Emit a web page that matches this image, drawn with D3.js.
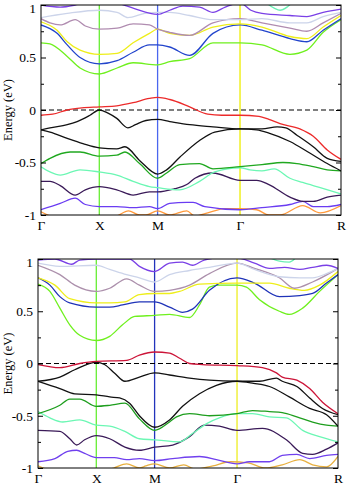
<!DOCTYPE html>
<html><head><meta charset="utf-8">
<script src="https://cdn.jsdelivr.net/npm/d3@7"></script>
<style>html,body{margin:0;padding:0;background:#fff;}svg{display:block;}
svg text{font-family:"Liberation Serif","DejaVu Serif","Times New Roman",serif;}</style>
</head><body>
<svg id="chart" width="349" height="486"></svg>
<script>
// ---- k-path (high symmetry points) ----
const kPoints = [0, 1, 2, 3.414, 5.146];
const kLabels = ["Γ", "X", "M", "Γ", "R"];
const yMajor = [-1, -0.5, 0, 0.5, 1];
const yMajorLabels = ["-1", "-0.5", "0", "0.5", "1"];
const yMinor = [-0.75, -0.25, 0.25, 0.75];

// ---- top panel bands: [k, E(eV)] ----
const topRed = [[0,-0.05],[0.2,-0.04],[0.45,0.0],[0.7,0.02],[1,0.03],[1.3,0.04],[1.58,0.07],[1.86,0.11],[2,0.12],[2.21,0.10],[2.55,0.03],[2.86,-0.04],[3.1,-0.05],[3.414,-0.05],[3.74,-0.06],[3.91,-0.09],[4.1,-0.13],[4.44,-0.18],[4.67,-0.25],[4.91,-0.38],[5.146,-0.47]];
const topBlackA = [[0,-0.19],[0.155,-0.17],[0.45,-0.14],[0.62,-0.11],[0.84,-0.05],[1,0],[1.15,-0.03],[1.3,-0.08],[1.49,-0.17],[1.62,-0.14],[1.8,-0.1],[2,-0.09],[2.21,-0.11],[2.55,-0.14],[2.95,-0.16],[3.414,-0.18],[3.79,-0.18],[4.05,-0.16],[4.2,-0.17],[4.39,-0.24],[4.67,-0.35],[4.91,-0.46],[5.146,-0.49]];
const topBlackB = [[0,-0.19],[0.155,-0.21],[0.45,-0.27],[0.72,-0.32],[1,-0.36],[1.3,-0.37],[1.44,-0.35],[1.69,-0.48],[2,-0.61],[2.155,-0.57],[2.38,-0.45],[2.72,-0.29],[2.98,-0.21],[3.414,-0.18],[3.7,-0.19],[3.91,-0.22],[4.27,-0.30],[4.61,-0.41],[4.91,-0.51],[5.146,-0.58]];
const topGreen = [[0,-0.51],[0.155,-0.46],[0.5,-0.40],[0.67,-0.40],[1,-0.44],[1.3,-0.43],[1.44,-0.40],[1.69,-0.51],[2,-0.65],[2.155,-0.60],[2.38,-0.52],[2.72,-0.51],[2.95,-0.56],[3.414,-0.54],[3.79,-0.52],[4.15,-0.50],[4.39,-0.51],[4.67,-0.54],[4.91,-0.57],[5.146,-0.58]];
const topAqua = [[0,-0.54],[0.155,-0.59],[0.33,-0.62],[0.67,-0.57],[1,-0.59],[1.3,-0.62],[1.58,-0.68],[1.86,-0.73],[2,-0.74],[2.38,-0.76],[2.72,-0.68],[2.98,-0.59],[3.414,-0.55],[3.585,-0.57],[3.79,-0.58],[4.0,-0.56],[4.27,-0.65],[4.49,-0.69],[4.79,-0.74],[5.146,-0.80]];
const topPurple = [[0,-0.68],[0.155,-0.68],[0.33,-0.72],[0.586,-0.81],[0.76,-0.76],[1,-0.73],[1.3,-0.76],[1.58,-0.81],[1.86,-0.78],[2,-0.78],[2.29,-0.75],[2.5,-0.71],[2.64,-0.65],[2.95,-0.60],[3.414,-0.67],[3.7,-0.67],[3.91,-0.71],[4.27,-0.83],[4.49,-0.87],[4.67,-0.87],[4.91,-0.83],[5.146,-0.81]];
const topViolet = [[0,-0.95],[0.33,-0.89],[0.586,-0.84],[0.76,-0.90],[1,-0.92],[1.3,-0.92],[1.58,-0.93],[1.86,-0.92],[2,-0.94],[2.207,-0.89],[2.5,-0.88],[2.61,-0.88],[2.81,-0.92],[3.414,-0.95],[3.79,-0.93],[4.27,-0.90],[4.49,-0.87],[4.67,-0.92],[4.91,-0.92],[5.146,-0.90]];
const topOrange = [[0,-0.97],[0.155,-1.01],[0.4,-1.04],[1,-1.05],[1.3,-1.01],[1.5,-0.96],[1.69,-1.0],[1.8,-1.0],[2,-0.96],[2.207,-1.0],[2.5,-0.96],[2.64,-1.01],[2.86,-0.98],[3.16,-0.94],[3.414,-0.94],[3.7,-0.95],[3.91,-1.0],[4.1,-1.0],[4.49,-0.91],[4.79,-0.98],[5.146,-0.91]];
const topLime = [[0,0.64],[0.155,0.63],[0.45,0.51],[0.67,0.40],[1,0.343],[1.305,0.40],[1.58,0.45],[2,0.43],[2.207,0.46],[2.55,0.49],[2.95,0.64],[3.414,0.64],[3.79,0.62],[4.27,0.53],[4.56,0.57],[4.84,0.74],[5.146,0.86]];
const topBlue = [[0,0.81],[0.276,0.73],[0.45,0.62],[0.67,0.50],[1,0.44],[1.305,0.47],[1.58,0.55],[1.86,0.62],[2,0.62],[2.207,0.60],[2.55,0.52],[2.95,0.73],[3.414,0.81],[3.79,0.76],[4.27,0.68],[4.56,0.65],[4.84,0.76],[5.146,0.87]];
const topYellow = [[0,0.84],[0.276,0.76],[0.45,0.65],[0.67,0.57],[1,0.53],[1.305,0.54],[1.58,0.64],[1.86,0.73],[2,0.77],[2.207,0.73],[2.55,0.71],[2.95,0.79],[3.414,0.82],[3.79,0.79],[4.27,0.70],[4.56,0.68],[4.84,0.79],[5.146,0.90]];
const topMauve = [[0,0.87],[0.155,0.83],[0.33,0.81],[0.586,0.86],[0.76,0.80],[1,0.77],[1.305,0.78],[1.58,0.82],[1.86,0.81],[2,0.77],[2.207,0.74],[2.55,0.71],[2.95,0.83],[3.414,0.87],[3.79,0.83],[4.27,0.78],[4.56,0.75],[4.84,0.83],[5.146,0.92]];
const topLavender = [[0,0.88],[0.45,0.92],[1,0.95],[1.305,0.93],[1.49,0.88],[1.78,0.92],[2,0.93],[2.207,0.93],[2.55,0.90],[2.95,0.86],[3.414,0.86],[3.79,0.87],[4.27,0.83],[4.56,0.83],[4.84,0.89],[5.146,0.93]];
const topVioletHi = [[0,1.0],[0.33,0.98],[0.586,1.0],[0.8,1.03],[1,1.04],[1.3,1.02],[1.58,0.97],[2,0.91],[2.207,0.95],[2.43,0.99],[2.72,0.98],[2.95,0.93],[3.16,0.98],[3.414,1.02],[3.6,0.95],[3.79,0.92],[4.27,0.90],[4.56,0.89],[4.84,0.93],[5.146,0.96]];
const topAquaHi = [[3.8,1.05],[4.0,0.97],[4.1,0.95],[4.22,0.98],[4.35,1.05]];

// ---- bottom panel bands: [k, E(eV)] ----
const botRed = [[0,-0.01],[0.375,-0.04],[0.716,0.0],[1,0.02],[1.52,0.03],[1.74,0.08],[2,0.11],[2.256,0.10],[2.43,0.05],[2.6,0.0],[2.82,-0.01],[3.414,-0.02],[3.85,-0.04],[4.09,-0.09],[4.19,-0.13],[4.44,-0.16],[4.66,-0.24],[4.88,-0.37],[5.146,-0.48]];
const botBlackA = [[0,-0.17],[0.375,-0.13],[0.63,-0.06],[1,0.01],[1.14,-0.01],[1.31,-0.09],[1.49,-0.17],[1.74,-0.13],[2,-0.09],[2.256,-0.11],[2.6,-0.14],[2.94,-0.16],[3.414,-0.17],[3.8,-0.17],[4.09,-0.14],[4.19,-0.17],[4.44,-0.22],[4.66,-0.33],[4.88,-0.43],[5.146,-0.49]];
const botBlackB = [[0,-0.17],[0.375,-0.24],[0.63,-0.29],[1,-0.30],[1.23,-0.32],[1.40,-0.33],[1.57,-0.38],[1.74,-0.50],[2,-0.61],[2.256,-0.54],[2.48,-0.41],[2.77,-0.29],[3.06,-0.21],[3.414,-0.17],[3.7,-0.19],[3.97,-0.22],[4.31,-0.32],[4.66,-0.43],[4.95,-0.49],[5.146,-0.60]];
const botGreen = [[0,-0.48],[0.375,-0.40],[0.545,-0.34],[0.716,-0.34],[1,-0.41],[1.23,-0.40],[1.49,-0.38],[1.74,-0.53],[2,-0.64],[2.256,-0.56],[2.376,-0.51],[2.6,-0.48],[2.94,-0.50],[3.414,-0.48],[3.68,-0.45],[3.97,-0.46],[4.19,-0.47],[4.44,-0.51],[4.71,-0.56],[4.95,-0.59],[5.146,-0.60]];
const botAqua = [[0,-0.46],[0.204,-0.52],[0.426,-0.56],[0.716,-0.54],[1,-0.59],[1.23,-0.60],[1.49,-0.65],[1.74,-0.72],[2,-0.73],[2.43,-0.75],[2.65,-0.67],[2.91,-0.57],[3.11,-0.52],[3.414,-0.48],[3.68,-0.48],[3.97,-0.51],[4.26,-0.52],[4.54,-0.64],[4.83,-0.70],[5.146,-0.75]];
const botPurple = [[0,-0.64],[0.375,-0.65],[0.545,-0.72],[0.664,-0.78],[0.80,-0.73],[1,-0.69],[1.23,-0.72],[1.49,-0.80],[1.74,-0.83],[2,-0.80],[2.31,-0.78],[2.6,-0.70],[2.85,-0.59],[3.11,-0.60],[3.414,-0.64],[3.85,-0.62],[4.26,-0.73],[4.54,-0.86],[4.71,-0.87],[4.95,-0.82],[5.146,-0.76]];
const botViolet = [[0,-0.94],[0.29,-0.91],[0.51,-0.84],[0.664,-0.83],[0.80,-0.86],[1,-0.90],[1.31,-0.90],[1.52,-0.92],[1.74,-0.91],[2,-0.93],[2.31,-0.91],[2.77,-0.89],[3.06,-0.92],[3.414,-0.96],[3.626,-0.94],[3.97,-0.94],[4.19,-0.88],[4.44,-0.87],[4.66,-0.91],[4.95,-0.88],[5.146,-0.87]];
const botOrange = [[0,-0.98],[0.2,-1.02],[0.6,-1.04],[1,-1.04],[1.3,-1.0],[1.52,-0.96],[1.74,-1.0],[1.85,-0.98],[2.0,-0.96],[2.256,-1.0],[2.5,-0.97],[2.7,-1.01],[3.0,-0.98],[3.3,-0.94],[3.6,-0.95],[3.9,-1.0],[4.19,-0.97],[4.49,-0.92],[4.71,-0.97],[4.95,-0.99],[5.146,-0.89]];
const botLime = [[0,0.76],[0.204,0.69],[0.375,0.53],[0.545,0.37],[0.716,0.27],[1,0.22],[1.23,0.26],[1.45,0.37],[1.66,0.45],[2,0.46],[2.256,0.47],[2.6,0.44],[2.77,0.56],[2.94,0.73],[3.1,0.75],[3.414,0.75],[3.575,0.73],[3.8,0.61],[4.14,0.50],[4.31,0.47],[4.54,0.53],[4.83,0.69],[5.146,0.85]];
const botBlue = [[0,0.82],[0.204,0.75],[0.375,0.64],[0.545,0.58],[1,0.54],[1.23,0.54],[1.45,0.56],[1.74,0.59],[2,0.59],[2.256,0.54],[2.48,0.49],[2.65,0.52],[2.94,0.70],[3.414,0.82],[3.713,0.77],[4.14,0.64],[4.49,0.65],[4.71,0.67],[4.95,0.77],[5.146,0.85]];
const botYellow = [[0,0.82],[0.29,0.75],[0.545,0.62],[1,0.58],[1.23,0.58],[1.49,0.59],[1.74,0.66],[2,0.67],[2.256,0.67],[2.43,0.69],[2.77,0.76],[3.414,0.77],[3.97,0.77],[4.31,0.72],[4.57,0.70],[4.83,0.75],[5.146,0.88]];
const botMauve = [[0,0.94],[0.375,0.85],[0.63,0.75],[1,0.69],[1.23,0.72],[1.52,0.81],[1.74,0.75],[2,0.69],[2.256,0.70],[2.6,0.75],[2.94,0.86],[3.414,0.96],[3.713,0.91],[4.14,0.82],[4.4,0.72],[4.71,0.78],[5.146,0.91]];
const botLavender = [[0,0.96],[0.375,0.93],[1,0.94],[1.23,0.90],[1.52,0.85],[1.74,0.82],[2,0.78],[2.256,0.85],[2.6,0.89],[2.94,0.92],[3.414,0.96],[3.713,0.90],[4.14,0.83],[4.49,0.82],[4.71,0.82],[4.95,0.86],[5.146,0.91]];
const botVioletHi = [[0,0.99],[0.29,1.0],[0.58,0.95],[0.716,0.99],[1,1.0],[1.57,1.0],[1.74,0.93],[2,0.88],[2.256,0.96],[2.48,0.97],[2.65,0.94],[2.85,0.99],[3.1,1.01],[3.414,1.01],[3.713,0.96],[3.97,0.91],[4.23,0.92],[4.49,0.90],[4.71,0.92],[4.95,0.94],[5.146,0.91]];
const botAquaHi = [[3.9,1.03],[4.14,0.98],[4.31,0.97],[4.45,1.03]];

const topBands = [
  [topOrange,"#ff9a3c"],[topViolet,"#6a3cf2"],[topPurple,"#3a1a58"],[topAqua,"#6cf7b4"],
  [topGreen,"#20a820"],[topBlackB,"#111111"],[topBlackA,"#111111"],[topRed,"#ec2a2a"],
  [topLime,"#6ff01e"],[topBlue,"#2244cc"],[topYellow,"#eeee1a"],[topMauve,"#b08cb0"],
  [topLavender,"#ccd4ea"],[topVioletHi,"#7a40e6"],[topAquaHi,"#6cf0b4"]
];
const botBands = [
  [botOrange,"#e8b040"],[botViolet,"#7040ee"],[botPurple,"#3a1a58"],[botAqua,"#6cf7b4"],
  [botGreen,"#1e9e1e"],[botBlackB,"#111111"],[botBlackA,"#111111"],[botRed,"#cc1438"],
  [botLime,"#6ff01e"],[botBlue,"#1f33b8"],[botYellow,"#eeee1a"],[botMauve,"#ac90ac"],
  [botLavender,"#ccd4ea"],[botVioletHi,"#7a40e6"],[botAquaHi,"#6cf0b4"]
];

const svg = d3.select("#chart");
const font = '"Liberation Serif","DejaVu Serif","Times New Roman",serif';

function drawPanel(id, left, top, w, h, bands, vlineColors) {
  const x = d3.scaleLinear().domain([kPoints[0], kPoints[kPoints.length-1]]).range([left, left + w]);
  const y = d3.scaleLinear().domain([-1, 1]).range([top + h, top]);
  svg.append("clipPath").attr("id", id).append("rect")
    .attr("x", left).attr("y", top).attr("width", w).attr("height", h);
  const g = svg.append("g");
  g.selectAll("line.vl").data(kPoints.slice(1, 4)).enter().append("line")
    .attr("x1", d => x(d)).attr("x2", d => x(d)).attr("y1", top).attr("y2", top + h)
    .attr("stroke", (d, i) => vlineColors[i]).attr("stroke-width", 1.3);
  g.append("line").attr("x1", left).attr("x2", left + w).attr("y1", y(0)).attr("y2", y(0))
    .attr("stroke", "#000").attr("stroke-width", 1.1).attr("stroke-dasharray", "5,3");
  const line = d3.line().x(d => x(d[0])).y(d => y(d[1])).curve(d3.curveMonotoneX);
  const bg = g.append("g").attr("clip-path", `url(#${id})`);
  bands.forEach(([pts, col]) => {
    bg.append("path").attr("d", line(pts)).attr("fill", "none")
      .attr("stroke", col).attr("stroke-width", 1.3);
  });
  g.append("rect").attr("x", left).attr("y", top).attr("width", w).attr("height", h)
    .attr("fill", "none").attr("stroke", "#000").attr("stroke-width", 1);
  g.append("g").attr("class", "yax").attr("transform", `translate(${left},0)`)
    .call(d3.axisLeft(y).tickValues(yMajor).tickSize(-5).tickPadding(5)
      .tickFormat((d, i) => yMajorLabels[i]));
  g.append("g").attr("transform", `translate(${left},0)`)
    .call(d3.axisLeft(y).tickValues(yMinor).tickSize(-3).tickFormat(""));
  g.append("g").attr("transform", `translate(${left + w},0)`)
    .call(d3.axisRight(y).tickValues(yMajor).tickSize(-5).tickFormat(""));
  g.append("g").attr("transform", `translate(${left + w},0)`)
    .call(d3.axisRight(y).tickValues(yMinor).tickSize(-3).tickFormat(""));
  g.append("g").attr("transform", `translate(0,${top + h})`)
    .call(d3.axisBottom(x).tickValues(kPoints).tickSize(0).tickPadding(5)
      .tickFormat((d, i) => kLabels[i]));
  g.selectAll(".domain").remove();
  g.selectAll(".tick line").attr("stroke", "#000");
  g.attr("font-family", font);
  g.selectAll(".tick text").attr("font-family", font).style("font-family", font)
    .attr("font-size", 13.5).attr("fill", "#000");
  g.selectAll(".yax .tick text").filter(d => d === 1).attr("dy", "0.55em");
  g.append("text").attr("transform", `translate(12,${top + h / 2}) rotate(-90)`)
    .attr("text-anchor", "middle").style("font-family", font).attr("font-size", 12.5)
    .text("Energy (eV)");
}

drawPanel("clipTop", 41, 5, 300, 210, topBands, ["#66ee33", "#4a66ee", "#eeee00"]);
drawPanel("clipBot", 38, 259, 300, 209, botBands, ["#66ee33", "#2233bb", "#eeee22"]);
</script>
</body></html>
